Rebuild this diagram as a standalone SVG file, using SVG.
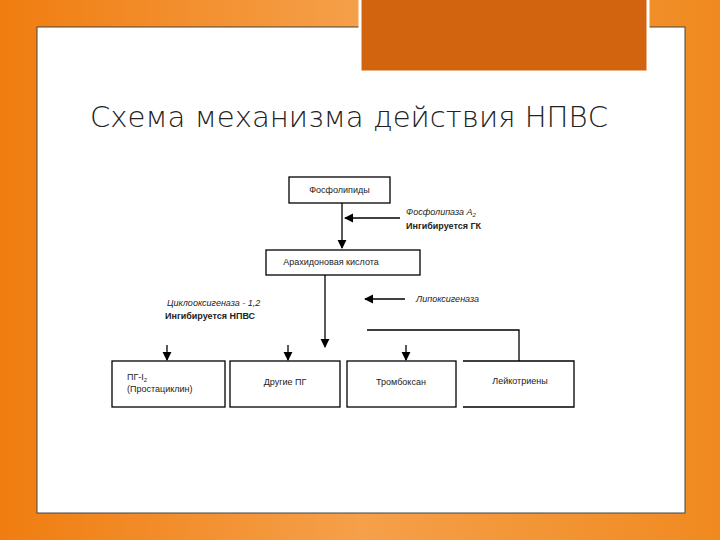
<svg xmlns="http://www.w3.org/2000/svg" width="720" height="540" viewBox="0 0 720 540">
<defs>
<linearGradient id="bg" x1="0" y1="0" x2="1" y2="0"><stop offset="0" stop-color="#f07d10"/><stop offset="0.5" stop-color="#f5a04a"/><stop offset="1" stop-color="#f08a20"/></linearGradient>
<marker id="ah" viewBox="0 0 10 10" refX="9" refY="5" markerWidth="7" markerHeight="7" orient="auto"><path d="M0,0 L10,5 L0,10 z" fill="#000"/></marker>
<style>
.b{fill:#fff;stroke:#000;stroke-width:1.3}
.t{font-family:"Liberation Sans",Arial,sans-serif;font-size:9px;fill:#222}
.i{font-style:italic}
.bd{font-weight:bold}
.c{stroke:#000;stroke-width:1.3;fill:none}
</style>
</defs>
<rect width="720" height="540" fill="url(#bg)"/>
<rect x="37" y="27" width="648" height="486" fill="#fff" stroke="#444" stroke-width="1"/>
<rect x="360" y="-2" width="288" height="74" fill="#d2640f" stroke="#fff" stroke-width="3"/>
<text x="90" y="127" font-family="'DejaVu Sans','Liberation Sans',sans-serif" font-weight="200" font-size="28" textLength="518" lengthAdjust="spacingAndGlyphs" fill="#222">Схема механизма действия НПВС</text>
<g id="connectors">
<line class="c" x1="342" y1="203" x2="342" y2="248" marker-end="url(#ah)"/>
<line class="c" x1="400" y1="218" x2="345" y2="218" marker-end="url(#ah)"/>
<line class="c" x1="325" y1="275" x2="325" y2="347" marker-end="url(#ah)"/>
<line class="c" x1="405" y1="299" x2="365" y2="299" marker-end="url(#ah)"/>
<polyline class="c" points="367,330 519,330 519,361"/>
<line class="c" x1="167" y1="345" x2="167" y2="360" marker-end="url(#ah)"/>
<line class="c" x1="288" y1="345" x2="288" y2="360" marker-end="url(#ah)"/>
<line class="c" x1="406" y1="345" x2="406" y2="360" marker-end="url(#ah)"/>
</g>
<g id="n1"><rect class="b" x="289" y="177" width="101" height="26"/><text class="t" x="339.5" y="193" text-anchor="middle">Фосфолипиды</text></g>
<g id="l1"><text class="t i" x="406" y="215">Фосфолипаза А<tspan font-size="6" dy="2">2</tspan></text><text class="t bd" x="406" y="229">Ингибируется ГК</text></g>
<g id="n2"><rect class="b" x="266" y="250" width="154" height="25"/><text class="t" x="331" y="265" text-anchor="middle">Арахидоновая  кислота</text></g>
<g id="l2"><text class="t i" x="167" y="306">Циклооксигеназа - 1,2</text><text class="t bd" x="165" y="319">Ингибируется НПВС</text></g>
<g id="l3"><text class="t i" x="416" y="302">Липоксигеназа</text></g>
<g id="n3"><rect class="b" x="112" y="361" width="113" height="46"/><text class="t" x="127" y="380">ПГ-I<tspan font-size="6" dy="2">2</tspan></text><text class="t" x="127" y="392">(Простациклин)</text></g>
<g id="n4"><rect class="b" x="230" y="361" width="110" height="46"/><text class="t" x="285" y="385" text-anchor="middle">Другие ПГ</text></g>
<g id="n5"><rect class="b" x="347" y="361" width="109" height="46"/><text class="t" x="401" y="385" text-anchor="middle">Тромбоксан</text></g>
<g id="n6"><polyline class="c" points="463,361 574,361 574,407 463,407"/><text class="t" x="520" y="384" text-anchor="middle">Лейкотриены</text></g>
</svg>
